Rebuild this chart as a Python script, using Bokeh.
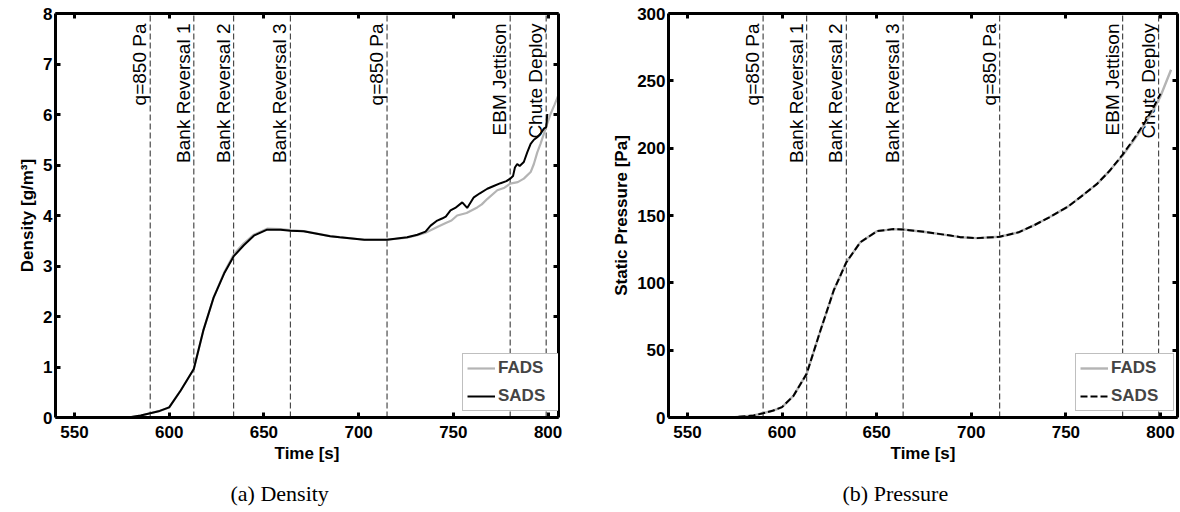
import math
from bokeh.plotting import figure
from bokeh.models import LinearAxis, Legend, LegendItem, Title, Range1d, FixedTicker
from bokeh.layouts import row
from bokeh.embed import file_html
from bokeh.resources import INLINE
from bokeh.core.properties import value

# ---------------- data ----------------
event_times = [590, 613, 634, 664, 715, 780, 799]
event_labels = ["q=850 Pa", "Bank Reversal 1", "Bank Reversal 2", "Bank Reversal 3",
                "q=850 Pa", "EBM Jettison", "Chute Deploy"]

x_ticks = [550, 600, 650, 700, 750, 800]
dens_ticks = [0, 1, 2, 3, 4, 5, 6, 7, 8]
pres_ticks = [0, 50, 100, 150, 200, 250, 300]

# Density, SADS (black)
sads_rho_t = [540, 570, 580, 585, 590, 595, 600, 606, 613, 618, 623.5, 629, 634, 639.4,
              644.7, 651.7, 658.8, 664, 671, 678, 685, 690, 703, 715, 725.6, 731, 735.3,
              738, 741.5, 744, 746, 748.5, 751, 754.7, 757.3, 760.8, 764, 767.9, 771,
              774.9, 778, 780, 781.5, 782.5, 783.7, 785, 787.2, 789, 790.8, 792.5, 794.3,
              796, 797.8, 799, 799.6]
sads_rho = [0.0, 0.0, 0.01, 0.04, 0.085, 0.13, 0.2, 0.53, 0.96, 1.72, 2.38, 2.85, 3.19, 3.41,
            3.6, 3.72, 3.72, 3.70, 3.69, 3.64, 3.59, 3.57, 3.52, 3.52, 3.57, 3.62, 3.68,
            3.80, 3.90, 3.94, 3.98, 4.10, 4.15, 4.26, 4.15, 4.36, 4.44, 4.53, 4.58,
            4.64, 4.68, 4.73, 4.78, 4.95, 5.02, 4.98, 5.06, 5.25, 5.42, 5.50, 5.55,
            5.62, 5.72, 5.75, 6.01]

# Density, FADS (grey)
fads_rho_t = [540, 570, 580, 585, 590, 595, 600, 606, 613, 618, 623.5, 629, 634, 636.5, 639.4,
              644.7, 651.7, 658.8, 664, 671, 678, 685, 690, 703, 715, 725.6, 731, 735.3,
              741.5, 746, 749, 752, 757, 762.6, 765, 768, 773.2, 777, 780, 784, 787.2,
              790.8, 792.5, 794.3, 796, 797.8, 801.3, 803.5, 805.4]
fads_rho = [0.0, 0.0, 0.01, 0.04, 0.085, 0.13, 0.2, 0.53, 0.96, 1.72, 2.38, 2.87, 3.22, 3.33, 3.45,
            3.62, 3.74, 3.73, 3.71, 3.69, 3.64, 3.59, 3.57, 3.52, 3.52, 3.56, 3.61, 3.66,
            3.77, 3.85, 3.90, 4.00, 4.05, 4.16, 4.22, 4.33, 4.50, 4.55, 4.63, 4.66, 4.73,
            4.86, 5.02, 5.25, 5.42, 5.62, 6.01, 6.20, 6.38]

# Static pressure, FADS (grey) and SADS (black dashed)
fads_p_t = [540, 575, 585, 590, 595, 600, 606, 613, 620.3, 627.3, 634, 641.4, 650.3, 659, 664,
            676.7, 689, 694.3, 703, 715, 725, 733, 741, 750.7, 758, 766.5, 773, 780, 786,
            791.2, 796, 800, 805.6]
fads_p = [0, 0.3, 1.5, 3.2, 5.0, 7.7, 16, 32.4, 64.6, 94.3, 115.3, 130.2, 138.4, 139.9, 139.6,
          137.6, 135.1, 133.9, 133.2, 134.2, 137.5, 142.6, 148.5, 156.2, 164, 173.5, 183, 194.6,
          206, 216.8, 228, 238.5, 258.2]
sads_p_t = [540, 575, 585, 590, 595, 600, 606, 613, 620.3, 627.3, 634, 641.4, 650.3, 659, 664,
            676.7, 689, 694.3, 703, 715, 725, 733, 741, 750.7, 758, 766.5, 773, 780, 786,
            791.2, 796, 800]
sads_p = [0, 0.3, 1.5, 3.2, 5.0, 7.7, 16, 32.4, 64.6, 94.3, 115.3, 130.2, 138.4, 139.9, 139.6,
          137.6, 135.1, 133.9, 133.2, 134.2, 137.5, 142.6, 148.5, 156.2, 164, 173.5, 183, 195.2,
          207, 218, 229.5, 240.4]

SANS = "Liberation Sans"
SERIF = "Liberation Serif"
FS = "17px"


def style_axes(p, xticks, yticks, xlabel, ylabel):
    p.xgrid.visible = False
    p.ygrid.visible = False
    p.outline_line_color = None
    p.background_fill_color = "white"
    p.border_fill_color = "white"
    xa = p.xaxis[0]
    ya = p.yaxis[0]
    xa.ticker = FixedTicker(ticks=xticks)
    ya.ticker = FixedTicker(ticks=yticks)
    xa.axis_label = xlabel
    ya.axis_label = ylabel
    for ax in (xa, ya):
        ax.axis_line_width = 3
        ax.axis_line_color = "black"
        ax.major_tick_in = 5
        ax.major_tick_out = 0
        ax.major_tick_line_width = 3
        ax.minor_tick_line_color = None
        ax.major_label_text_font = SANS
        ax.major_label_text_font_style = "bold"
        ax.major_label_text_font_size = FS
        ax.major_label_text_color = "black"
        ax.axis_label_text_font = SANS
        ax.axis_label_text_font_style = "bold"
        ax.axis_label_text_font_size = FS
        ax.axis_label_text_color = "black"
    xa.major_label_standoff = 8
    xa.axis_label_standoff = 3
    ya.major_label_standoff = 3
    ya.axis_label_standoff = 3
    # mirrored axes (ticks only) on top and right
    for loc, tk in (("above", xticks), ("right", yticks)):
        ax = LinearAxis(ticker=FixedTicker(ticks=tk))
        ax.axis_line_width = 3
        ax.major_tick_in = 5
        ax.major_tick_out = 0
        ax.major_tick_line_width = 3
        ax.minor_tick_line_color = None
        ax.major_label_text_font_size = "1px"
        ax.major_label_text_color = None
        ax.major_label_standoff = 0
        ax.axis_label = None
        p.add_layout(ax, loc)


def add_events(p, ytop):
    p.segment(x0=event_times, x1=event_times, y0=[p.y_range.start] * len(event_times),
              y1=[ytop] * len(event_times), line_color="#4a4a4a", line_width=1.2,
              line_dash="6 3")
    p.text(x=event_times, y=[ytop] * len(event_times), text=event_labels,
           angle=math.pi / 2, text_align="right", text_baseline="bottom",
           x_offset=0, y_offset=10, text_font=value(SANS), text_font_size="19px",
           text_color="black")


def make_legend(p, items):
    leg = Legend(items=items, location=(407, 6), padding=4, spacing=8,
                 glyph_width=28, glyph_height=20, label_height=20, label_width=58,
                 label_standoff=3, margin=0,
                 label_text_font=SANS, label_text_font_style="bold", label_text_font_size=FS,
                 border_line_color="#808080", border_line_width=1,
                 background_fill_color="white", background_fill_alpha=1.0)
    p.add_layout(leg, "center")


def add_caption(p, text, offset):
    t = Title(text=text, align="left", offset=offset, standoff=27,
              text_font=SERIF, text_font_size="22px", text_font_style="normal",
              text_color="black")
    p.add_layout(t, "below")


# ---------------- left: density ----------------
p1 = figure(frame_width=503, frame_height=404, min_border_left=55, min_border_right=40,
            min_border_top=13, min_border_bottom=80,
            x_range=Range1d(540, 805.5), y_range=Range1d(0, 8),
            output_backend="svg", toolbar_location=None)
style_axes(p1, x_ticks, dens_ticks, "Time [s]", "Density [g/m³]")
add_events(p1, 8)
r_f1 = p1.line(fads_rho_t, fads_rho, line_color="#b4b4b4", line_width=2.2)
r_s1 = p1.line(sads_rho_t, sads_rho, line_color="black", line_width=2.0)
make_legend(p1, [LegendItem(label="FADS", renderers=[r_f1]),
                 LegendItem(label="SADS", renderers=[r_s1])])
add_caption(p1, "(a) Density", 175)

# ---------------- right: pressure ----------------
p2 = figure(frame_width=509, frame_height=404, min_border_left=70, min_border_right=2,
            min_border_top=13, min_border_bottom=80,
            x_range=Range1d(540, 809), y_range=Range1d(0, 300),
            output_backend="svg", toolbar_location=None)
style_axes(p2, x_ticks, pres_ticks, "Time [s]", "Static Pressure [Pa]")
add_events(p2, 300)
r_f2 = p2.line(fads_p_t, fads_p, line_color="#b4b4b4", line_width=2.4)
r_s2 = p2.line(sads_p_t, sads_p, line_color="black", line_width=2.0, line_dash="7 3")
make_legend(p2, [LegendItem(label="FADS", renderers=[r_f2]),
                 LegendItem(label="SADS", renderers=[r_s2])])
add_caption(p2, "(b) Pressure", 174)

layout = row(p1, p2)
open("out.html", "w").write(file_html(layout, INLINE))
